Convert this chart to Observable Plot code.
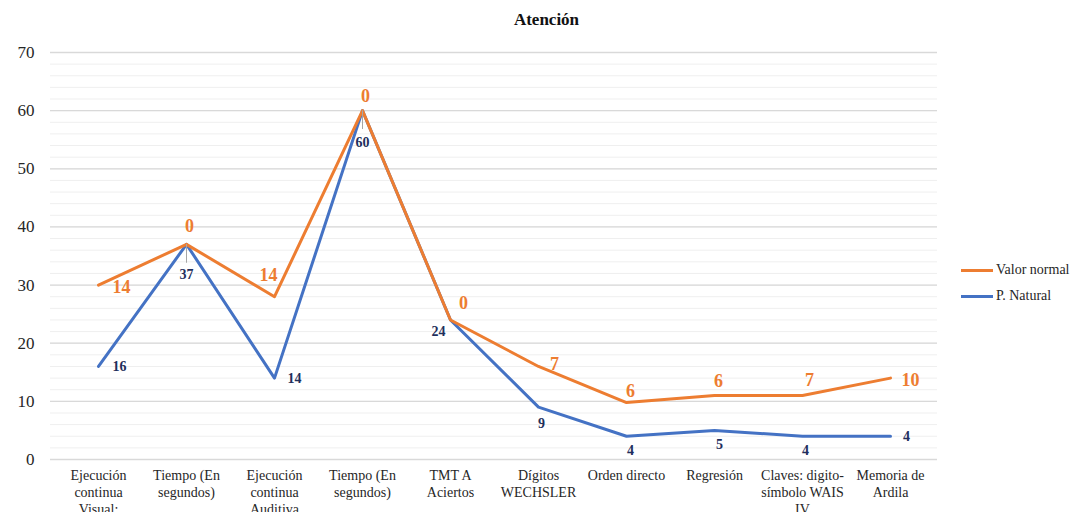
<!DOCTYPE html>
<html>
<head>
<meta charset="utf-8">
<script src="https://cdn.jsdelivr.net/npm/d3@7"></script>
<script src="https://cdn.jsdelivr.net/npm/@observablehq/plot@0.6"></script>
<style>
  body { margin: 0; background: #fff; }
  #wrap { position: relative; width: 1089px; height: 512px; overflow: hidden; font-family: "Liberation Serif", "Times New Roman", serif; color: #262626; }
  #title { height: 36px; line-height: 40px; text-align: center; font-weight: bold; font-size: 17px; color: #111; padding-left: 4px; }
  #legend { position: absolute; left: 961px; top: 257px; font-size: 14px; }
  .item { display: flex; align-items: center; height: 26px; }
  .swatch { width: 32px; height: 3px; margin-right: 3px; }
</style>
</head>
<body>
<div id="wrap">
  <div id="title">Atención</div>
  <div id="chart"></div>
  <div id="legend"></div>
</div>
<script>
// Test names (shown on the x axis; "\n" breaks the label lines)
const categories = [
  "Ejecución\ncontinua\nVisual:",
  "Tiempo (En\nsegundos)",
  "Ejecución\ncontinua\nAuditiva",
  "Tiempo (En\nsegundos)",
  "TMT A\nAciertos",
  "Dígitos\nWECHSLER",
  "Orden directo",
  "Regresión",
  "Claves: digito-\nsímbolo WAIS\nIV",
  "Memoria de\nArdila"
];

// Series
const valorNormal = [30, 37, 28, 60, 24, 16, 9.8, 11, 11, 14];
const pNatural = [16, 37, 14, 60, 24, 9, 4, 5, 4, 4];

// Data labels printed on each series
const valorNormalLabels = [14, 0, 14, 0, 0, 7, 6, 6, 7, 10];
const pNaturalLabels = [16, 37, 14, 60, 24, 9, 4, 5, 4, 4];

const yTicks = [0, 10, 20, 30, 40, 50, 60, 70];

const series = [
  {name: "Valor normal", color: "#ed7d31"},
  {name: "P. Natural", color: "#4472c4"}
];

const rows = categories.map((c, i) => ({
  i,
  normal: valorNormal[i],
  natural: pNatural[i],
  normalLabel: valorNormalLabels[i],
  naturalLabel: pNaturalLabels[i]
}));

// Label offsets (px) relative to each point
const normalOffsets = [[23,2],[3,-18],[-6,-21],[3,-14],[13,-17],[16,-2],[4,-11],[4,-14],[7,-15],[20,2]];
const naturalOffsets = [[21,0],[0,30],[20,0],[0,32],[-12,12],[3,16],[4,14],[5,14],[3,14],[16,0]];

const normalLabelMarks = rows.map((r, k) => Plot.text([r], {
  x: "i", y: "normal", text: d => String(d.normalLabel),
  dx: normalOffsets[k][0], dy: normalOffsets[k][1],
  fill: "#ed7d31", fontSize: 18, fontWeight: "bold"
}));

const naturalLabelMarks = rows.map((r, k) => Plot.text([r], {
  x: "i", y: "natural", text: d => String(d.naturalLabel),
  dx: naturalOffsets[k][0], dy: naturalOffsets[k][1],
  fill: "#1f2f5c", fontSize: 14, fontWeight: "bold"
}));

// Leader lines for labels pushed well below their point
const leaderRows = rows.filter((r, k) => naturalOffsets[k][1] >= 30);
const tick = {draw(ctx, l) { ctx.moveTo(0, 0); ctx.lineTo(0, -l); }};

const chart = Plot.plot({
  width: 1089,
  height: 476,
  marginLeft: 50,
  marginRight: 152,
  marginTop: 16,
  marginBottom: 53,
  style: {fontFamily: "'Liberation Serif', 'Times New Roman', serif", background: "white", color: "#262626", overflow: "visible"},
  x: {type: "point", domain: d3.range(categories.length), label: null},
  y: {domain: [0, 70], label: null},
  marks: [
    Plot.gridY(d3.range(0, 71, 2), {stroke: "#efefef", strokeOpacity: 1}),
    Plot.gridY(yTicks, {stroke: "#d9d9d9", strokeOpacity: 1, strokeWidth: 1.3}),
    Plot.axisY(yTicks, {tickSize: 0, tickPadding: 16, fontSize: 17, label: null}),
    Plot.axisX({tickSize: 0, tickPadding: 9, fontSize: 14, lineHeight: 1.2, label: null, tickFormat: i => categories[i]}),
    Plot.line(rows, {x: "i", y: "natural", stroke: series[1].color, strokeWidth: 3, strokeLinejoin: "round"}),
    Plot.line(rows, {x: "i", y: "normal", stroke: series[0].color, strokeWidth: 3, strokeLinejoin: "round"}),
    Plot.vector(leaderRows, {x: "i", y: "natural", length: 18, rotate: 180, anchor: "start", shape: tick, stroke: "#a6a6a6", strokeWidth: 1}),
    ...naturalLabelMarks,
    ...normalLabelMarks
  ]
});
document.getElementById("chart").appendChild(chart);

const legend = document.getElementById("legend");
for (const s of series) {
  const item = document.createElement("div");
  item.className = "item";
  const sw = document.createElement("div");
  sw.className = "swatch";
  sw.style.background = s.color;
  const label = document.createElement("span");
  label.textContent = s.name;
  item.append(sw, label);
  legend.appendChild(item);
}
</script>
</body>
</html>
